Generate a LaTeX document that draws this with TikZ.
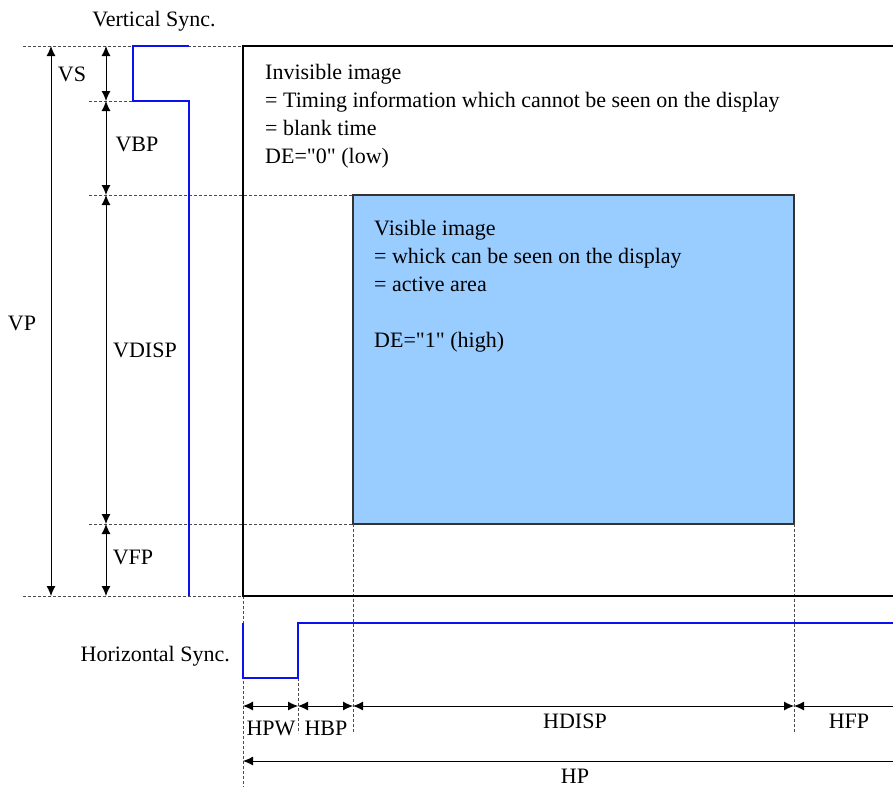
\documentclass[tikz,border=0pt]{standalone}
\usepackage{fontspec}
\setmainfont{Liberation Serif}
\usepackage{xcolor}
\usetikzlibrary{arrows.meta, positioning, calc}

\definecolor{activeblue}{HTML}{99CCFF}
\definecolor{syncblue}{HTML}{0A10F0}
\newcommand{\dq}{\textquotedbl}

\begin{document}
\begin{tikzpicture}[x=1pt, y=-1pt, font=\fontsize{22}{28}\selectfont,
   every node/.style={inner sep=0pt},
   lbl/.style={anchor=base},
   dim/.style={draw, line width=0.9pt, {Latex[length=10pt,width=9pt]}-{Latex[length=10pt,width=9pt]}},
   halfdim/.style={draw, line width=0.9pt, {Latex[length=10pt,width=9pt]}-},
   guide/.style={draw, black!70, line width=0.8pt, dash pattern=on 3pt off 2pt},
   frame/.style={draw, line width=1.3pt},
   sync/.style={draw, syncblue, line width=2.8pt}]
  \useasboundingbox (0,0) rectangle (893,787);

  % time marks
  \foreach \n/\y in {0/46,1/101,2/195,3/524,4/596} \coordinate (v\n) at (0,\y);
  \foreach \n/\x in {0/243,1/298,2/353,3/794,4/893} \coordinate (h\n) at (\x,0);
  \coordinate (gl) at (23,0);  \coordinate (gs) at (89,0);
  \coordinate (axp) at (51,0); \coordinate (ax) at (106,0);
  \coordinate (ay) at (0,706); \coordinate (hpy) at (0,761);
  \coordinate (gend) at (0,733); \coordinate (gbot) at (0,787);

  % active area
  \draw[draw=black!80, line width=1.1pt, fill=activeblue] (h2 |- v2) rectangle (h3 |- v3);

  % dashed guides
  \draw[guide] (gl |- v0) -- (h0 |- v0);
  \draw[guide] (gs |- v1) -- (133,101);
  \draw[guide] (gs |- v2) -- (h2 |- v2);
  \draw[guide] (gs |- v3) -- (h2 |- v3);
  \draw[guide] (gl |- v4) -- (h0 |- v4);
  \draw[guide] (h0 |- v4) -- (h0 |- gbot);
  \draw[guide] (298,678) -- (h1 |- gend);
  \draw[guide] (h2 |- v3) -- (h2 |- gend);
  \draw[guide] (h3 |- v3) -- (h3 |- gend);

  % frame
  \draw[frame] (h4 |- v0) -- (h0 |- v0) -- (h0 |- v4) -- (h4 |- v4);

  % sync signals
  \draw[sync] (189,46) -- (133,46) -- (133,101) -- (189,101) -- (189,596);
  \draw[sync] (243,623) -- (243,678) -- (298,678) -- (298,623) -- (893,623);

  % vertical dimensions
  \draw[dim] (axp |- v0) -- (axp |- v4);
  \draw[dim] (ax |- v0) -- (ax |- v1);
  \draw[dim] (ax |- v1) -- (ax |- v2);
  \draw[dim] (ax |- v2) -- (ax |- v3);
  \draw[dim] (ax |- v3) -- (ax |- v4);

  % horizontal dimensions
  \draw[dim] (h0 |- ay) -- (h1 |- ay);
  \draw[dim] (h1 |- ay) -- (h2 |- ay);
  \draw[dim] (h2 |- ay) -- (h3 |- ay);
  \draw[halfdim] (h3 |- ay) -- (h4 |- ay);
  \draw[halfdim] (h0 |- hpy) -- (h4 |- hpy);

  % labels
  \node[lbl] (vsync) at (154,27) {Vertical Sync.};
  \node[anchor=base east] (hsync) at (230,661) {Horizontal Sync.};
  \node[lbl] (vp) at (22,330) {VP};
  \node[lbl] (vs) at (72,81) {VS};
  \node[lbl] (vbp) at (137,151) {VBP};
  \node[lbl] (vdisp) at (145,357) {VDISP};
  \node[lbl] (vfp) at (133,564) {VFP};
  \node[lbl] (hpw) at (271,735) {HPW};
  \node[lbl] (hbp) at (326,735) {HBP};
  \node[lbl] (hdisp) at (575,728) {HDISP};
  \node[lbl] (hfp) at (849,728) {HFP};
  \node[lbl] (hp) at (575,783) {HP};

  % area texts (base = last line)
  \node[anchor=base west, align=left] (invisible) at (265,163)
    {Invisible image\\= Timing information which cannot be seen on the display\\= blank time\\DE=\dq0\dq{} (low)};
  \node[anchor=base west, align=left] (visible) at (374,347)
    {Visible image\\= whick can be seen on the display\\= active area\\[28pt]DE=\dq1\dq{} (high)};
\end{tikzpicture}
\end{document}
